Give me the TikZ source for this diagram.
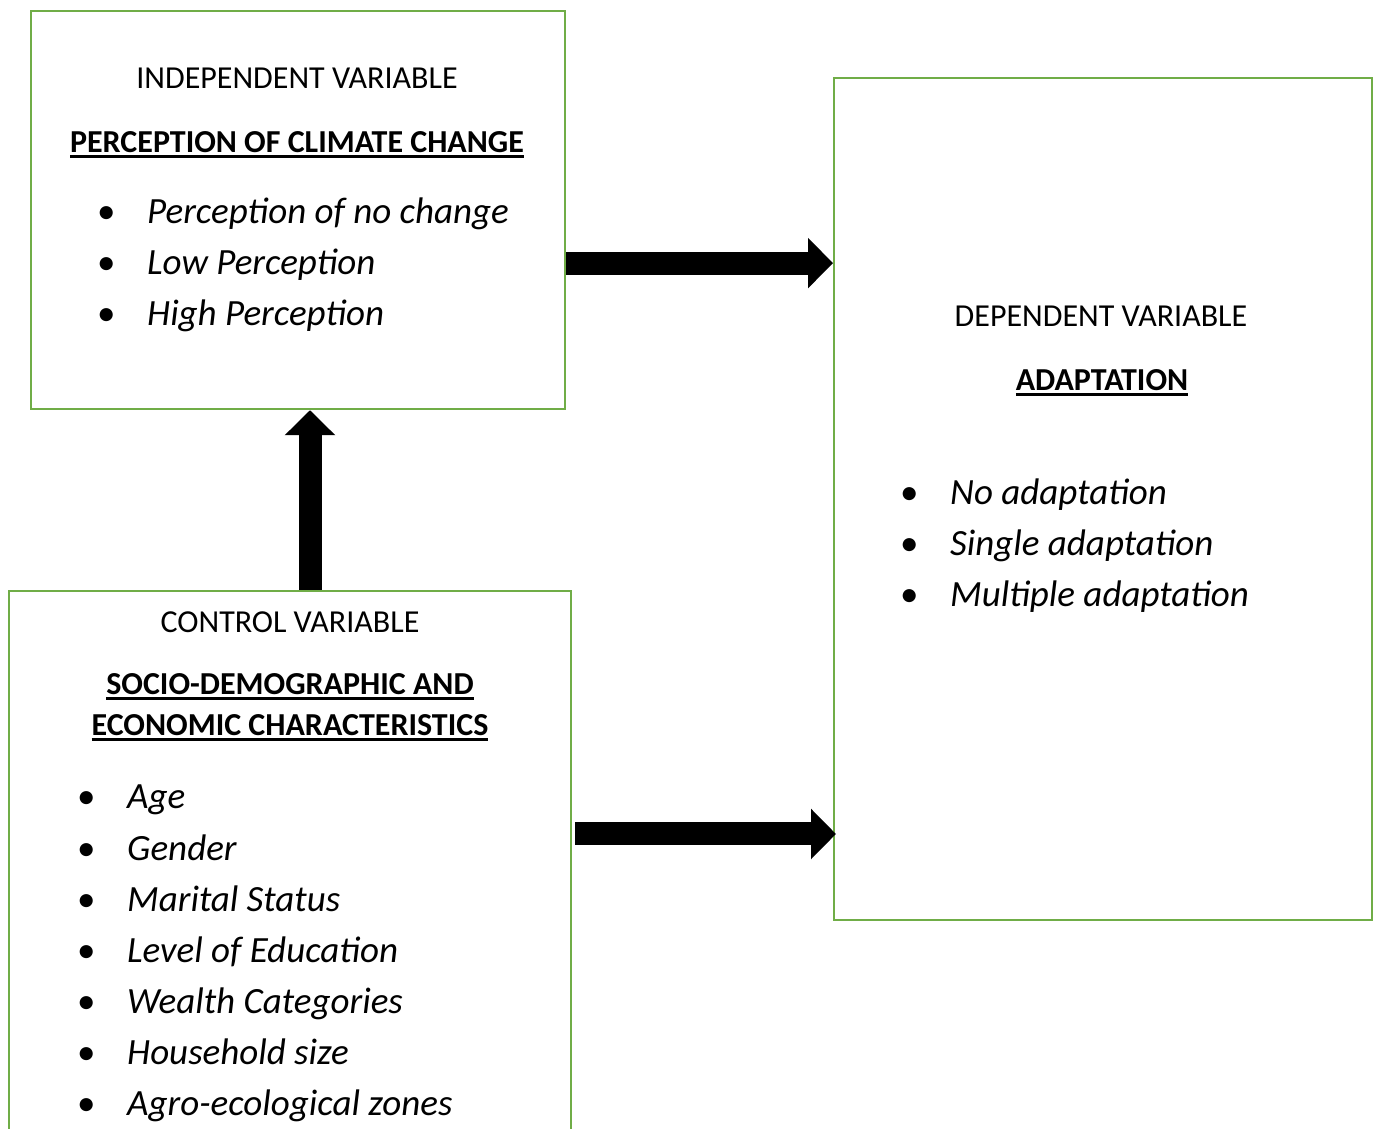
\documentclass[tikz,border=0pt]{standalone}
\usepackage{fontspec}
\setmainfont{Carlito}
\usetikzlibrary{arrows.meta}
\definecolor{boxgreen}{RGB}{112,173,71}
\newlength\ulwd
\newcommand{\undl}[1]{\settowidth{\ulwd}{#1}\rlap{\rule[-5pt]{\ulwd}{2.6pt}}#1}
\newcommand{\bul}[1]{\makebox[50pt][l]{•}\textit{#1}}
\tikzset{varbox/.style={rectangle,draw=boxgreen,line width=2.2pt,fill=white,inner sep=0pt}}
\tikzset{varhead/.style={anchor=base,inner sep=0pt,font=\fontsize{32}{38}\selectfont}}
\tikzset{vartitle/.style={varhead,font=\fontsize{32}{38}\selectfont\bfseries}}
\tikzset{varitem/.style={anchor=base west,inner sep=0pt,font=\fontsize{37}{44}\selectfont}}
\tikzset{fatArrow/.style={-{Triangle[length=25pt,width=49pt]},line width=23pt}}

\begin{document}
\begin{tikzpicture}[x=1pt,y=1pt]
\clip (0,0) rectangle (1374,1129);
% boxes
\node (indep) [varbox, minimum width=534pt, minimum height=398pt, anchor=north west] at (30,1119) {};
\node (dep) [varbox, minimum width=538pt, minimum height=842pt, anchor=north west] at (833,1052) {};
\node (ctrl) [varbox, minimum width=562pt, minimum height=600pt, anchor=north] at (290,539) {};

% independent variable
\node (indhead) [varhead] at (297,1040) {INDEPENDENT VARIABLE};
\node (indtitle) [vartitle] at (297,976) {\undl{PERCEPTION OF CLIMATE CHANGE}};
\foreach \t [count=\i] in {Perception of no change, Low Perception, High Perception}
	\node (ind\i) [varitem] at (97,{956-51*\i}) {\bul{\t}};

% dependent variable
\node (dephead) [varhead] at (1101,802) {DEPENDENT VARIABLE};
\node (deptitle) [vartitle] at (1102,738) {\undl{ADAPTATION}};
\foreach \t [count=\i] in {No adaptation, Single adaptation, Multiple adaptation}
	\node (dep\i) [varitem] at (900,{675-51*\i}) {\bul{\t}};

% control variable
\node (ctrlhead) [varhead] at (290,496) {CONTROL VARIABLE};
\node (ctrltitle) [vartitle] at (290,434) {\undl{SOCIO-DEMOGRAPHIC AND}};
\node (ctrltitleb) [vartitle] at (290,393) {\undl{ECONOMIC CHARACTERISTICS}};
\foreach \t [count=\i] in {Age, Gender, Marital Status, Level of Education, Wealth Categories, Household size, Agro-ecological zones}
	\node (ctrl\i) [varitem] at (77,{371.1-51.1*\i}) {\bul{\t}};

% arrows
\draw[fatArrow] ([yshift=-53pt]indep.east) -- ([yshift=-53pt]indep.east -| dep.west);
\draw[fatArrow] ([xshift=3pt,yshift=-244pt]ctrl.north east) -- ([xshift=3pt,yshift=-244pt]ctrl.north east -| dep.west);
\draw[fatArrow] ([xshift=20pt]ctrl.north) -- ([xshift=20pt]ctrl.north |- indep.south);
\end{tikzpicture}
\end{document}
